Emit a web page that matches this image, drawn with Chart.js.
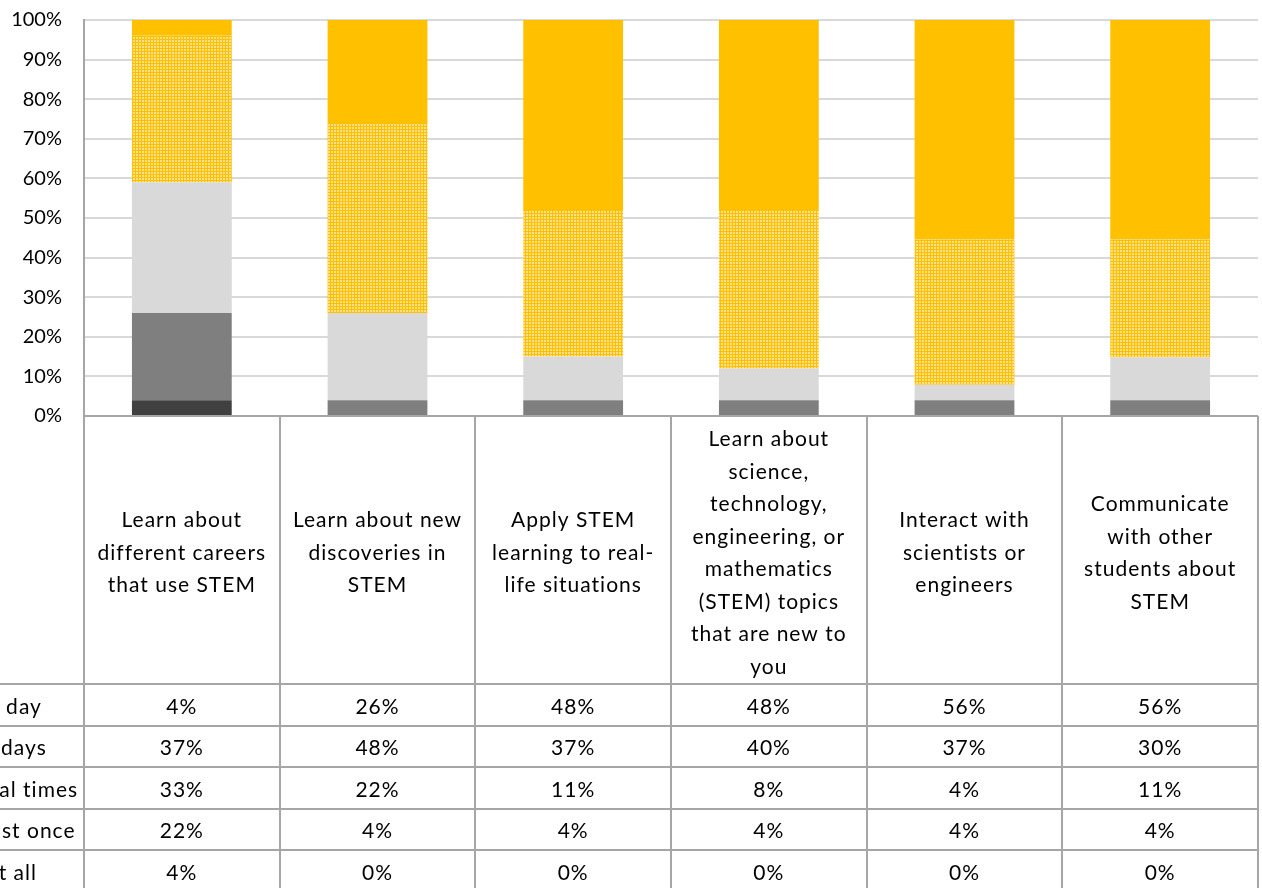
<!DOCTYPE html>
<html>
<head>
<meta charset="utf-8">
<script src="https://cdn.jsdelivr.net/npm/chart.js@4/dist/chart.umd.min.js"></script>
<style>
  html, body { margin: 0; padding: 0; background: #fff; }
  #wrap { width: 1262px; height: 888px; position: relative; }
</style>
</head>
<body>
<div id="wrap"><canvas id="chart" width="1262" height="888"></canvas></div>
<script>
// Activity categories (each entry is the wrapped header text of its column)
const categories = [
  ['Learn about', 'different careers', 'that use STEM'],
  ['Learn about new', 'discoveries in', 'STEM'],
  ['Apply STEM', 'learning to real-', 'life situations'],
  ['Learn about', 'science,', 'technology,', 'engineering, or', 'mathematics', '(STEM) topics', 'that are new to', 'you'],
  ['Interact with', 'scientists or', 'engineers'],
  ['Communicate', 'with other', 'students about', 'STEM']
];

// Response frequency, percent of students
const everyDay     = [4, 26, 48, 48, 56, 56];
const mostDays     = [37, 48, 37, 40, 37, 30];
const severalTimes = [33, 22, 11, 8, 4, 11];
const atLeastOnce  = [22, 4, 4, 4, 4, 4];
const notAtAll     = [4, 0, 0, 0, 0, 0];

const seriesNames = ['Every day', 'Most days', 'Several times', 'At least once', 'Not at all'];
const yTicks = [0, 10, 20, 30, 40, 50, 60, 70, 80, 90, 100];

const FONT = 'Lato, "Open Sans", sans-serif';
const LINE = '#a6a6a6';

// fine checker fill used for the "Most days" segment
function checkerFill() {
  const c = document.createElement('canvas');
  c.width = 3; c.height = 3;
  const g = c.getContext('2d');
  g.fillStyle = '#FFC000';
  g.fillRect(0, 0, 3, 3);
  g.fillStyle = '#FFE08A';
  g.fillRect(1, 1, 2, 2);
  return g.createPattern(c, 'repeat');
}

const rows = [everyDay, mostDays, severalTimes, atLeastOnce, notAtAll];
// 100% stacking: each column is scaled to its own total
const totals = categories.map((_, i) => rows.reduce((s, r) => s + r[i], 0));
const share = arr => arr.map((v, i) => v / totals[i] * 100);

const datasets = [
  { label: seriesNames[4], data: share(notAtAll),     backgroundColor: '#404040' },
  { label: seriesNames[3], data: share(atLeastOnce),  backgroundColor: '#7F7F7F' },
  { label: seriesNames[2], data: share(severalTimes), backgroundColor: '#D9D9D9' },
  { label: seriesNames[1], data: share(mostDays),     backgroundColor: checkerFill() },
  { label: seriesNames[0], data: share(everyDay),     backgroundColor: '#FFC000' }
];

// data table drawn under the plot, aligned with the category scale
const dataTable = {
  id: 'dataTable',
  afterDraw(chart) {
    const ctx = chart.ctx;
    const area = chart.chartArea;
    const xs = chart.scales.x;
    const n = categories.length;
    const colW = (area.right - area.left) / n;
    const headerBottom = 684;
    const rowH = 41.6;
    const tableBottom = headerBottom + rowH * rows.length;

    ctx.save();
    ctx.strokeStyle = LINE;
    ctx.lineWidth = 2;

    // axis line / table top
    ctx.beginPath();
    ctx.moveTo(area.left, area.bottom);
    ctx.lineTo(area.right, area.bottom);
    ctx.stroke();

    // horizontal row rules (extend across the label column)
    for (let r = 0; r <= rows.length; r++) {
      const y = Math.round(headerBottom + r * rowH);
      ctx.beginPath();
      ctx.moveTo(0, y);
      ctx.lineTo(area.right, y);
      ctx.stroke();
    }

    // vertical column rules
    for (let i = 0; i <= n; i++) {
      const x = Math.round(area.left + i * colW);
      ctx.beginPath();
      ctx.moveTo(x, i === 0 ? area.top : area.bottom);
      ctx.lineTo(x, tableBottom + 10);
      ctx.stroke();
    }

    ctx.fillStyle = '#000';
    ctx.font = '21px ' + FONT;
    ctx.letterSpacing = '1px';
    ctx.textBaseline = 'middle';
    ctx.textAlign = 'center';

    // column headers
    const lh = 32.5;
    const headerMid = (area.bottom + headerBottom) / 2 + 3;
    categories.forEach((lines, i) => {
      const cx = xs.getPixelForValue(i);
      const y0 = headerMid - (lines.length - 1) * lh / 2;
      lines.forEach((t, k) => ctx.fillText(t, cx, y0 + k * lh));
    });

    // values
    rows.forEach((vals, r) => {
      const cy = headerBottom + r * rowH + rowH / 2 + 2;
      vals.forEach((v, i) => ctx.fillText(v + '%', xs.getPixelForValue(i), cy));
    });

    // row labels in the leftmost column
    ctx.textAlign = 'left';
    seriesNames.forEach((name, r) => {
      const cy = headerBottom + r * rowH + rowH / 2 + 2;
      ctx.fillText(name, -57, cy);
    });
    ctx.restore();
  }
};

new Chart(document.getElementById('chart'), {
  type: 'bar',
  data: { labels: categories.map(c => c.join(' ')), datasets },
  options: {
    responsive: false,
    animation: false,
    events: [],
    layout: { padding: { top: 20, right: 4, bottom: 472, left: 0 } },
    plugins: { legend: { display: false }, tooltip: { enabled: false } },
    datasets: { bar: { categoryPercentage: 1, barPercentage: 0.51, borderWidth: 0 } },
    scales: {
      x: { display: false, stacked: true },
      y: {
        stacked: true,
        min: 0,
        max: 100,
        afterFit(scale) {
          scale.width = 84;
          scale.paddingTop = 0;
          scale.paddingBottom = 0;
        },
        afterBuildTicks(scale) { scale.ticks = yTicks.map(v => ({ value: v })); },
        ticks: {
          padding: 22,
          color: '#000',
          font: { family: FONT, size: 20 },
          callback: v => v + '%'
        },
        grid: { color: '#D9D9D9', lineWidth: 2, drawTicks: false },
        border: { display: true, color: LINE, width: 2 }
      }
    }
  },
  plugins: [dataTable]
});
</script>
</body>
</html>
